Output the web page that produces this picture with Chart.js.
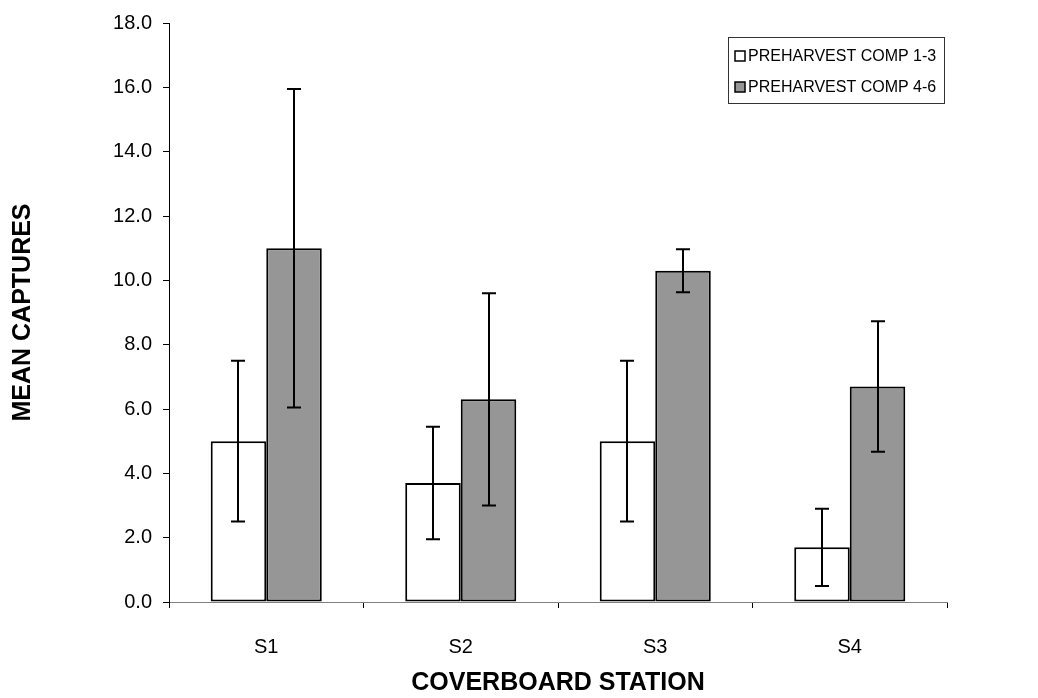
<!DOCTYPE html>
<html>
<head>
<meta charset="utf-8">
<script src="https://cdn.jsdelivr.net/npm/chart.js@4"></script>
<style>
  html, body { margin: 0; padding: 0; background: #fff; }
  #wrap { width: 1038px; height: 698px; position: relative; }
</style>
</head>
<body>
<div id="wrap"><canvas id="c" width="1038" height="698"></canvas></div>
<script>
const categories = ['S1', 'S2', 'S3', 'S4'];
const seriesNames = ['PREHARVEST COMP 1-3', 'PREHARVEST COMP 4-6'];
const comp13 = [5.0, 3.7, 5.0, 1.7];
const comp13Err = [2.5, 1.75, 2.5, 1.2];
const comp46 = [11.0, 6.3, 10.3, 6.7];
const comp46Err = [4.95, 3.3, 0.67, 2.03];
const yTicks = [0, 2, 4, 6, 8, 10, 12, 14, 16, 18];

const FONT = "'Liberation Sans', Arial, sans-serif";

const errorBars = {
  id: 'errorBars',
  afterDatasetsDraw(chart) {
    const ctx = chart.ctx;
    const y = chart.scales.y;
    ctx.save();
    ctx.strokeStyle = '#000';
    ctx.lineWidth = 2;
    chart.data.datasets.forEach((ds, di) => {
      const meta = chart.getDatasetMeta(di);
      meta.data.forEach((bar, i) => {
        const v = ds.data[i], e = ds.errors[i];
        const x = Math.round(bar.x);
        const yt = y.getPixelForValue(v + e);
        const yb = y.getPixelForValue(v - e);
        ctx.beginPath();
        ctx.moveTo(x, yt); ctx.lineTo(x, yb);
        ctx.moveTo(x - 7, yt); ctx.lineTo(x + 7, yt);
        ctx.moveTo(x - 7, yb); ctx.lineTo(x + 7, yb);
        ctx.stroke();
      });
    });
    ctx.restore();
  }
};

const boxLegend = {
  id: 'boxLegend',
  afterDraw(chart) {
    const ctx = chart.ctx;
    const left = 728, top = 37, w = 216, h = 66;
    ctx.save();
    ctx.strokeStyle = '#333';
    ctx.lineWidth = 1;
    ctx.strokeRect(left + 0.5, top + 0.5, w, h);
    ctx.font = '16px ' + FONT;
    ctx.textBaseline = 'middle';
    chart.data.datasets.forEach((ds, i) => {
      const cy = top + 19 + i * 31;
      ctx.fillStyle = ds.backgroundColor;
      ctx.fillRect(735, cy - 5, 10, 10);
      ctx.strokeStyle = '#000';
      ctx.lineWidth = 1.5;
      ctx.strokeRect(735, cy - 5, 10, 10);
      ctx.fillStyle = '#000';
      ctx.fillText(ds.label, 748, cy + 1);
    });
    ctx.restore();
  }
};

new Chart(document.getElementById('c'), {
  type: 'bar',
  data: {
    labels: categories,
    datasets: [
      { label: seriesNames[0], data: comp13, errors: comp13Err, backgroundColor: '#ffffff', borderColor: '#000', borderWidth: 2, borderSkipped: false },
      { label: seriesNames[1], data: comp46, errors: comp46Err, backgroundColor: '#969696', borderColor: '#000', borderWidth: 2, borderSkipped: false }
    ]
  },
  options: {
    responsive: false,
    animation: false,
    devicePixelRatio: 1,
    layout: { padding: { left: 0, top: 16, right: 91, bottom: 0 } },
    datasets: { bar: { categoryPercentage: 0.571, barPercentage: 1.0 } },
    plugins: { legend: { display: false }, tooltip: { enabled: false } },
    scales: {
      x: {
        offset: true,
        grid: { offset: true, drawOnChartArea: false, drawTicks: true, tickLength: 6, color: '#000', lineWidth: 1 },
        border: { display: true, color: '#808080', width: 1 },
        ticks: { color: '#000', font: { family: FONT, size: 20 }, padding: 27 },
        title: { display: true, text: 'COVERBOARD STATION', color: '#000', font: { family: FONT, size: 25, weight: 'bold' }, padding: { top: 0, bottom: 0 } },
        afterFit(s) { s.height = 96; }
      },
      y: {
        min: 0, max: 18,
        afterBuildTicks(s) { s.ticks = yTicks.map(v => ({ value: v })); },
        grid: { drawOnChartArea: false, drawTicks: true, tickLength: 6, color: '#000', lineWidth: 1 },
        border: { display: true, color: '#000', width: 1 },
        ticks: { color: '#000', font: { family: FONT, size: 20 }, padding: 11, callback: v => Number(v).toFixed(1) },
        title: { display: true, text: 'MEAN CAPTURES', color: '#000', font: { family: FONT, size: 25, weight: 'bold' }, padding: { top: 8, bottom: 0 } },
        afterFit(s) { s.width = 169; }
      }
    }
  },
  plugins: [errorBars, boxLegend]
});
</script>
</body>
</html>
